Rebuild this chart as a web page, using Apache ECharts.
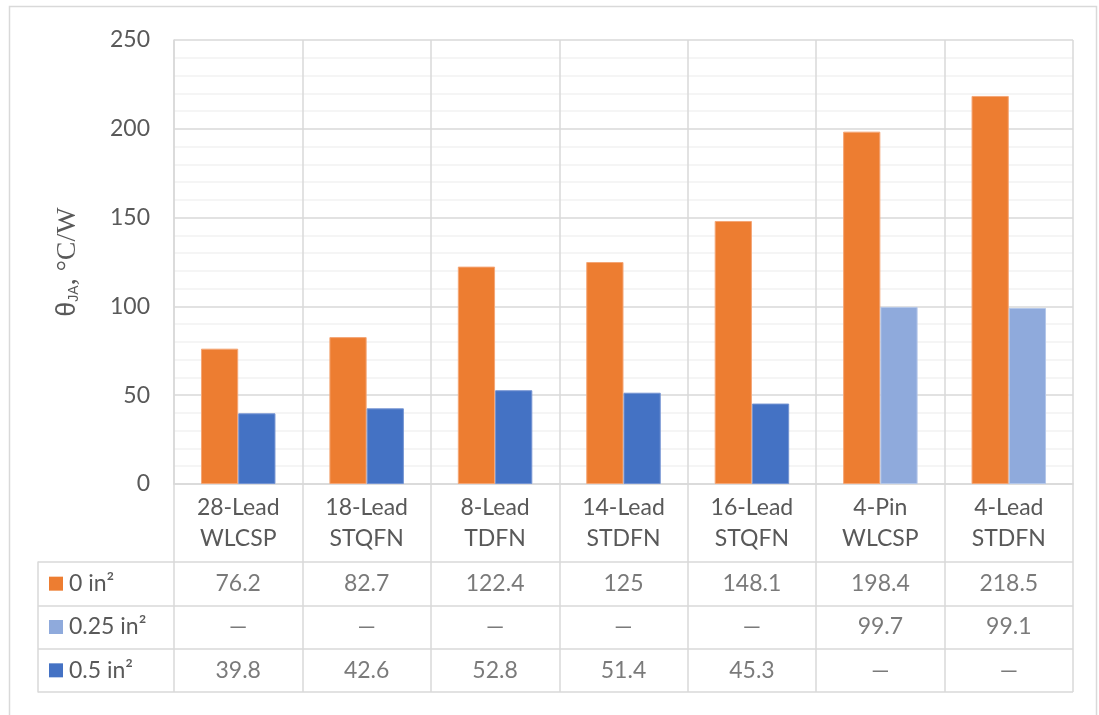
<!DOCTYPE html>
<html>
<head>
<meta charset="utf-8">
<script src="https://cdn.jsdelivr.net/npm/echarts@6/dist/echarts.min.js"></script>
<style>
html,body{margin:0;padding:0;background:#fff;}
#chart{width:1099px;height:715px;}
</style>
</head>
<body>
<div id="chart"></div>
<script>
var categories = ['28-Lead\nWLCSP', '18-Lead\nSTQFN', '8-Lead\nTDFN', '14-Lead\nSTDFN', '16-Lead\nSTQFN', '4-Pin\nWLCSP', '4-Lead\nSTDFN'];
var seriesNames = ['0 in²', '0.25 in²', '0.5 in²'];
var seriesColors = ['#ED7D31', '#8FAADC', '#4472C4'];
var seriesBorders = ['#F4A676', '#B4C7E9', '#7594D2'];
var values0 = [76.2, 82.7, 122.4, 125, 148.1, 198.4, 218.5];
var values025 = [null, null, null, null, null, 99.7, 99.1];
var values05 = [39.8, 42.6, 52.8, 51.4, 45.3, null, null];
var yTicks = [0, 50, 100, 150, 200, 250];

var allValues = [values0, values025, values05];
var FONT = 'Lato';
var TXT = '#595959';
var GRID = '#D9D9D9';

var tableData = [];
allValues.forEach(function (arr, r) {
  arr.forEach(function (v, c) {
    tableData.push({ value: [c, r], text: v === null ? '—' : String(v) });
  });
});

var legendRich = { t: { fontFamily: FONT, fontSize: 23, color: TXT, padding: [0, 0, 0, 6] } };
seriesColors.forEach(function (col, i) {
  legendRich['s' + i] = { width: 14, height: 14, backgroundColor: col };
});

var chart = echarts.init(document.getElementById('chart'), null, { renderer: 'canvas' });
chart.setOption({
  animation: false,
  backgroundColor: '#fff',
  textStyle: { fontFamily: FONT },
  graphic: [{
    type: 'rect', silent: true, z: -10,
    shape: { x: 9.5, y: 6.5, width: 1087, height: 730 },
    style: { fill: 'none', stroke: GRID, lineWidth: 1.5 }
  }],
  grid: [
    { left: 174, right: 26, top: 40, bottom: 231, containLabel: false },
    { left: 174, right: 26, top: 562, bottom: 23, containLabel: false }
  ],
  xAxis: [{
    type: 'category', gridIndex: 0, data: categories,
    axisLine: { show: true, lineStyle: { color: GRID, width: 1.5 } },
    axisTick: { show: true, length: 78, lineStyle: { color: GRID, width: 1.5 } },
    axisLabel: { fontFamily: FONT, fontSize: 23, color: TXT, lineHeight: 31, margin: 8 },
    splitLine: { show: true, lineStyle: { color: GRID, width: 1.5 } }
  }, {
    type: 'category', gridIndex: 1, data: categories,
    axisLine: { show: false }, axisTick: { show: false }, axisLabel: { show: false },
    splitLine: { show: true, lineStyle: { color: GRID, width: 1.5 } }
  }],
  yAxis: [{
    type: 'value', gridIndex: 0, min: yTicks[0], max: yTicks[yTicks.length - 1], interval: 50,
    splitNumber: 5,
    axisLine: { show: true, lineStyle: { color: GRID, width: 1.5 } },
    axisTick: { show: false },
    axisLabel: { fontFamily: FONT, fontSize: 23, color: TXT, margin: 24 },
    splitLine: { show: true, lineStyle: { color: GRID, width: 1.5 } },
    minorTick: { show: false, splitNumber: 5 },
    minorSplitLine: { show: true, lineStyle: { color: '#F2F2F2', width: 1.5 } },
    name: '{a|θ}{b|JA}{c|, °C/W}',
    nameLocation: 'middle', nameGap: 92,
    nameTextStyle: {
      fontSize: 28, color: TXT, fontFamily: 'Liberation Serif',
      rich: {
        a: { fontFamily: 'Liberation Sans', fontSize: 27, color: TXT },
        b: { fontFamily: 'Liberation Sans', fontSize: 14, color: TXT, padding: [12, 0, 0, 0] },
        c: { fontFamily: 'Liberation Serif', fontSize: 28, color: TXT }
      }
    }
  }, {
    type: 'category', gridIndex: 1, data: seriesNames, inverse: true,
    offset: 136,
    axisLine: { show: true, lineStyle: { color: GRID, width: 1.5 } },
    axisTick: { show: true, inside: true, length: 136, lineStyle: { color: GRID, width: 1.5 } },
    axisLabel: {
      inside: true, margin: 11, align: 'left',
      formatter: function (v, i) { return '{s' + i + '|}{t|' + v + '}'; },
      rich: legendRich
    },
    splitLine: { show: true, lineStyle: { color: GRID, width: 1.5 } }
  }],
  series: [{
    name: seriesNames[0], type: 'bar', xAxisIndex: 0, yAxisIndex: 0,
    data: values0, barGap: '0%', barCategoryGap: '42%',
    itemStyle: { color: seriesColors[0], borderColor: seriesBorders[0], borderWidth: 1 }
  }, {
    name: seriesNames[1], type: 'bar', xAxisIndex: 0, yAxisIndex: 0, stack: 'b',
    data: values025,
    itemStyle: { color: seriesColors[1], borderColor: seriesBorders[1], borderWidth: 1 }
  }, {
    name: seriesNames[2], type: 'bar', xAxisIndex: 0, yAxisIndex: 0, stack: 'b',
    data: values05,
    itemStyle: { color: seriesColors[2], borderColor: seriesBorders[2], borderWidth: 1 }
  }, {
    type: 'scatter', xAxisIndex: 1, yAxisIndex: 1, symbolSize: 1,
    itemStyle: { color: 'rgba(0,0,0,0)' },
    data: tableData,
    label: {
      show: true, position: 'inside', fontFamily: FONT, fontSize: 23, color: TXT,
      formatter: function (p) { return p.data.text; }
    }
  }]
});
</script>
</body>
</html>
